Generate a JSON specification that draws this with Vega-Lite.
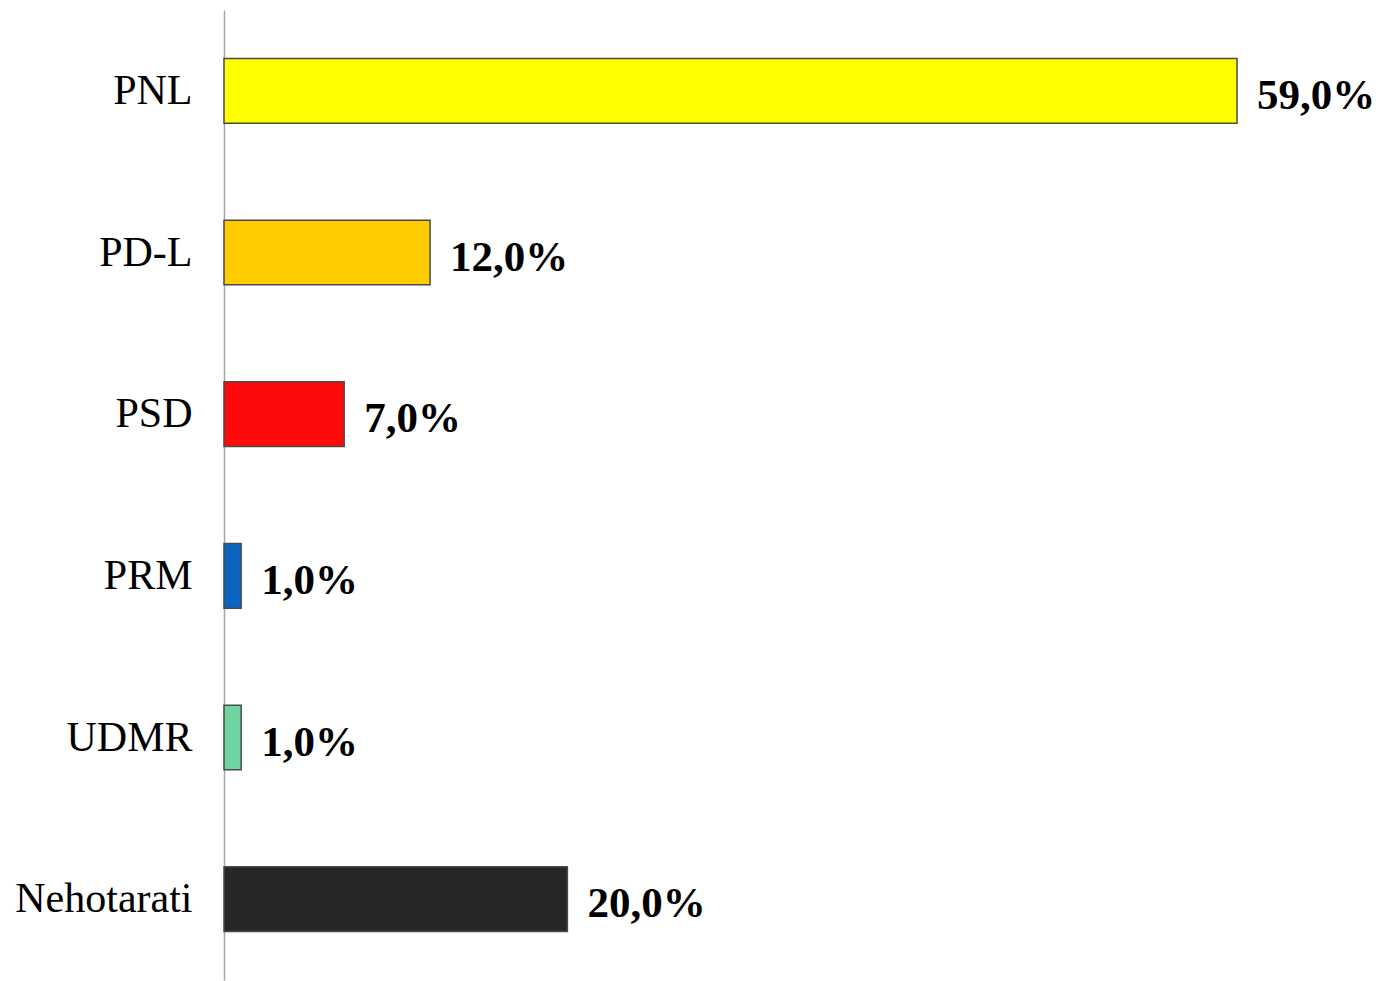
{
  "$schema": "https://vega.github.io/schema/vega-lite/v6.json",
  "width": 1013,
  "height": 970,
  "autosize": {"type": "none"},
  "padding": {"left": 224, "top": 10, "right": 149, "bottom": 1},
  "background": "white",
  "config": {"view": {"stroke": null}},
  "data": {
    "values": [
      {"party": "PNL", "value": 59, "label": "59,0%", "color": "#FFFF00"},
      {"party": "PD-L", "value": 12, "label": "12,0%", "color": "#FFCC00"},
      {"party": "PSD", "value": 7, "label": "7,0%", "color": "#FF0A0A"},
      {"party": "PRM", "value": 1, "label": "1,0%", "color": "#0A64C0"},
      {"party": "UDMR", "value": 1, "label": "1,0%", "color": "#6ED4A0"},
      {"party": "Nehotarati", "value": 20, "label": "20,0%", "color": "#262626"}
    ]
  },
  "encoding": {
    "y": {
      "field": "party",
      "type": "nominal",
      "sort": null,
      "scale": {"paddingInner": 0.6, "paddingOuter": 0.3},
      "axis": {
        "title": null,
        "ticks": false,
        "domainColor": "#a6a6a6",
        "domainWidth": 1.5,
        "labelFont": "Liberation Serif",
        "labelFontSize": 42,
        "labelColor": "#000000",
        "labelPadding": 32
      }
    },
    "x": {
      "field": "value",
      "type": "quantitative",
      "scale": {"domain": [0, 59], "nice": false},
      "axis": null
    }
  },
  "layer": [
    {
      "mark": {"type": "bar", "stroke": "#4a4a4a", "strokeWidth": 1.5},
      "encoding": {
        "fill": {"field": "color", "type": "nominal", "scale": null}
      }
    },
    {
      "mark": {
        "type": "text",
        "align": "left",
        "baseline": "middle",
        "dx": 20,
        "dy": 5,
        "font": "Liberation Serif",
        "fontWeight": "bold",
        "fontSize": 43,
        "color": "#000000"
      },
      "encoding": {
        "text": {"field": "label"}
      }
    }
  ]
}
